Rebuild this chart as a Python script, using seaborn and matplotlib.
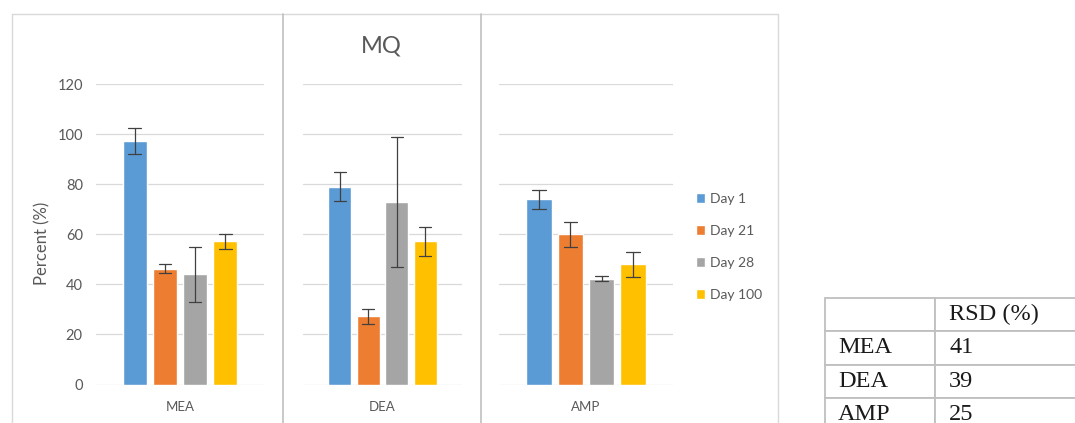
import matplotlib
matplotlib.use("Agg")
import matplotlib.pyplot as plt
from matplotlib.lines import Line2D
import seaborn as sns
import pandas as pd

# data
compounds = ["MEA", "DEA", "AMP"]
days = ["Day 1", "Day 21", "Day 28", "Day 100"]
mea_vals = [97.5, 46.3, 44.0, 57.2]
mea_err = [5.2, 1.7, 11.0, 2.9]
dea_vals = [79.1, 27.2, 72.8, 57.2]
dea_err = [5.8, 2.9, 26.0, 5.8]
amp_vals = [74.0, 60.1, 42.3, 48.1]
amp_err = [3.8, 5.0, 1.1, 5.0]
rsd_values = [41, 39, 25]

colors = ["#5B9BD5", "#ED7D31", "#A5A5A5", "#FFC000"]
text_color = "#595959"

sns.set_style("white")
plt.rcParams["font.family"] = ["Lato", "DejaVu Sans"]

W, H = 1075, 423
fig = plt.figure(figsize=(W / 100, H / 100), dpi=100)


def fx(px):
    return px / W


def fy(py):
    return 1 - py / H


# long-format table: two rows per bar (value - err, value + err) so the
# mean is the bar height and the min/max interval is the error bar
rows = []
for comp, vals, errs in zip(compounds, [mea_vals, dea_vals, amp_vals],
                            [mea_err, dea_err, amp_err]):
    for day, v, e in zip(days, vals, errs):
        rows.append({"compound": comp, "day": day, "value": v - e})
        rows.append({"compound": comp, "day": day, "value": v + e})
df = pd.DataFrame(rows)

# axes extents in pixels (left, right)
panel_px = [(96, 264), (303, 462), (499, 673)]
y_top, y_bot = 84.3, 384.5

axes = []
for i, (comp, (l, r)) in enumerate(zip(compounds, panel_px)):
    ax = fig.add_axes([fx(l), fy(y_bot), fx(r - l), (y_bot - y_top) / H])
    sns.barplot(
        data=df[df["compound"] == comp],
        x="compound", y="value", hue="day",
        hue_order=days, palette=colors, saturation=1,
        width=0.72, gap=0.2,
        errorbar=lambda v: (v.min(), v.max()),
        capsize=0.3,
        err_kws={"color": "#404040", "linewidth": 0.9},
        ax=ax, legend=(i == 0),
    )
    ax.set_ylim(0, 120)
    ax.set_yticks(range(0, 121, 20))
    ax.yaxis.grid(True, color="#D9D9D9", linewidth=0.9)
    ax.set_axisbelow(True)
    for s in ax.spines.values():
        s.set_visible(False)
    ax.set_xlabel("")
    ax.tick_params(axis="x", length=0, pad=12, labelsize=9.5, labelcolor=text_color)
    ax.tick_params(axis="y", length=0, pad=9.5, labelsize=10.5, labelcolor=text_color)
    if i == 0:
        ax.set_ylabel("Percent (%)", fontsize=12, color=text_color)
        ax.yaxis.set_label_coords(-0.27, 0.47)
    else:
        ax.set_ylabel("")
        ax.set_yticklabels([])
    axes.append(ax)

# legend to the right of the panels
handles, labels = axes[0].get_legend_handles_labels()
axes[0].get_legend().remove()
fig.legend(
    handles, labels, loc="upper left",
    bbox_to_anchor=(fx(690), fy(187)),
    frameon=False, fontsize=10, labelcolor=text_color,
    handlelength=0.7, handleheight=0.7, handletextpad=0.35,
    labelspacing=1.45, borderaxespad=0,
)

fig.text(fx(381), fy(46), "MQ", ha="center", va="center",
         fontsize=17, color=text_color)

# chart frame and panel dividers
frame = "#D9D9D9"
fig.add_artist(Line2D([fx(12), fx(778)], [fy(14), fy(14)], color=frame, lw=1))
fig.add_artist(Line2D([fx(12), fx(12)], [fy(14), 0], color=frame, lw=1))
fig.add_artist(Line2D([fx(778), fx(778)], [fy(14), 0], color=frame, lw=1))
for xd in (283, 481):
    fig.add_artist(Line2D([fx(xd), fx(xd)], [fy(14), 0], color="#C0C0C0", lw=1.2))

# RSD table in the lower right corner (runs off the figure edge)
tab_l, tab_r, tab_t, tab_b = 825, 1100, 298, 431
tax = fig.add_axes([fx(tab_l), fy(tab_b), fx(tab_r - tab_l), (tab_b - tab_t) / H])
tax.axis("off")
cell_text = [["", "RSD (%)"]] + [[c, str(v)] for c, v in zip(compounds, rsd_values)]
table = tax.table(cellText=cell_text, cellLoc="left", bbox=[0, 0, 1, 1],
                  colWidths=[110, 165])
table.auto_set_font_size(False)
for (r, c), cell in table.get_celld().items():
    cell.set_edgecolor("#BFBFBF")
    cell.set_linewidth(1.3)
    cell.PAD = 0.117 if c == 0 else 0.085
    cell.get_text().set_fontfamily(["Liberation Serif", "DejaVu Serif"])
    cell.get_text().set_fontsize(17.5)
    cell.get_text().set_color("#1a1a1a")

fig.savefig("out.png", dpi=100)
